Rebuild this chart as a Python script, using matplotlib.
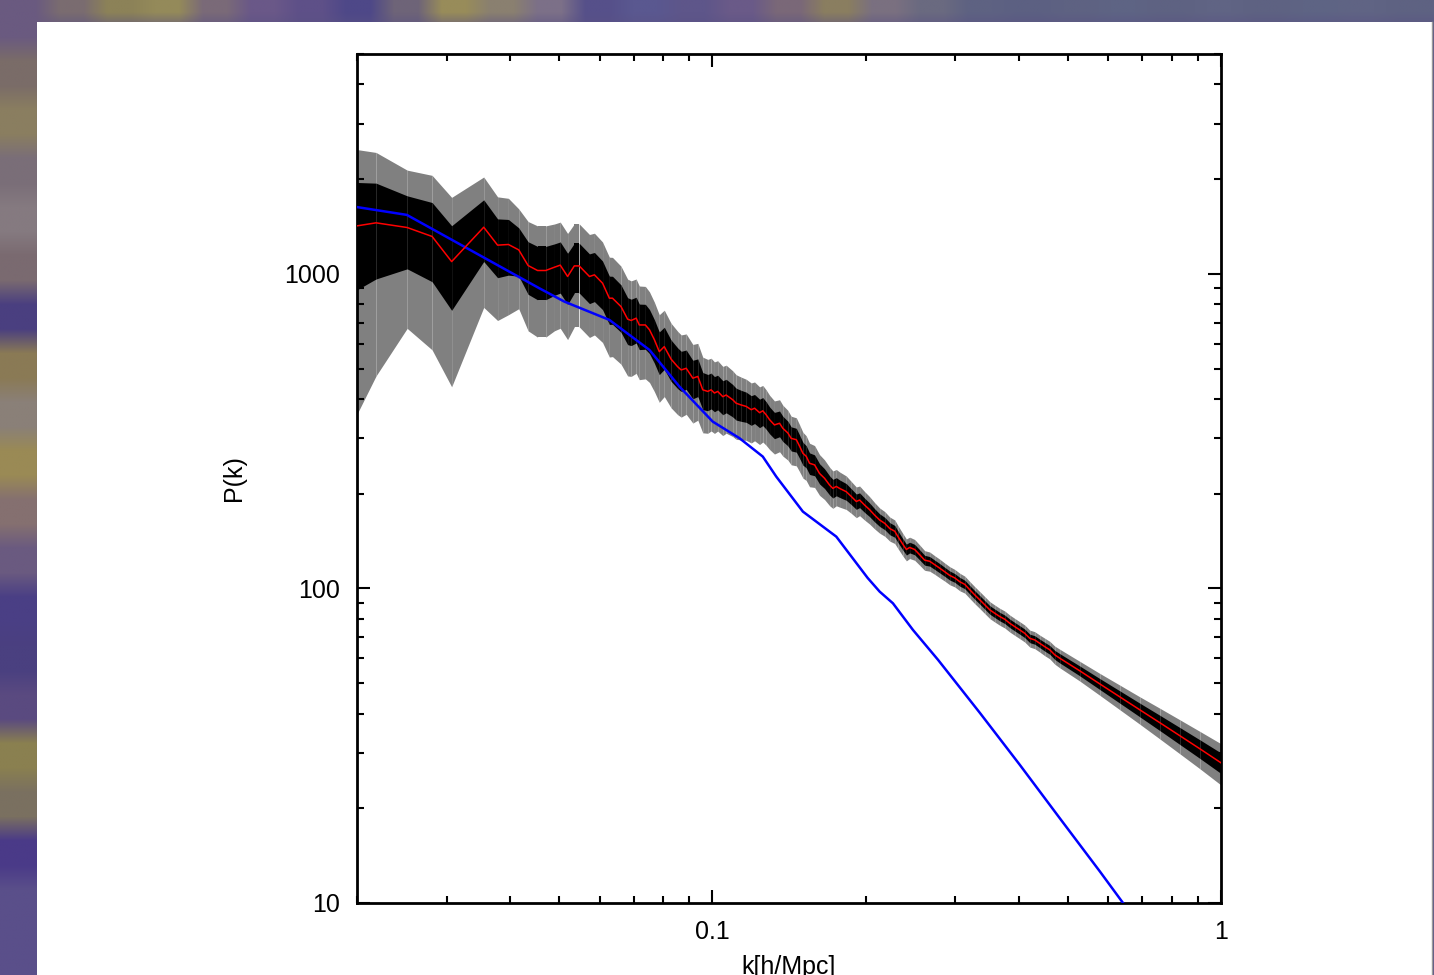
import numpy as np
import matplotlib
matplotlib.use("Agg")
import matplotlib.pyplot as plt
from matplotlib.patches import Rectangle
from matplotlib.ticker import FixedLocator, FuncFormatter, NullFormatter, LogLocator

# ---------------- data ----------------
# measured power spectrum (red line) and its 1-sigma relative error (bands: +-1 sigma black, +-2 sigma grey)
k_sim = [0.0200, 0.0218, 0.0251, 0.0281, 0.0307, 0.0355, 0.0378, 0.0397, 0.0416, 0.0434,
         0.0453, 0.0470, 0.0489, 0.0502, 0.0519, 0.0535, 0.0547, 0.0573, 0.0586, 0.0608,
         0.0627, 0.0636, 0.0661, 0.0681, 0.0692, 0.0708, 0.0718, 0.0738, 0.0752, 0.0769,
         0.0786, 0.0804, 0.0829, 0.0854, 0.0868, 0.0888, 0.0915, 0.0936, 0.0957, 0.0979,
         0.0994, 0.1009, 0.1024, 0.1048, 0.1064, 0.1096, 0.1113, 0.1139, 0.1165, 0.1192,
         0.1210, 0.1238, 0.1256, 0.1276, 0.1295, 0.1324, 0.1355, 0.1375, 0.1407, 0.1428,
         0.1462, 0.1484, 0.1506, 0.1529, 0.1552, 0.1588, 0.1624, 0.1661, 0.1700, 0.1725,
         0.1752, 0.1778, 0.1833, 0.1875, 0.1918, 0.1947, 0.1992, 0.2037, 0.2084, 0.2132,
         0.2182, 0.2232, 0.2283, 0.2317, 0.2369, 0.2406, 0.2442, 0.2498, 0.2555, 0.2614,
         0.2674, 0.2735, 0.2798, 0.2862, 0.2928, 0.2996, 0.3065, 0.3135, 0.3207, 0.3281,
         0.3357, 0.3434, 0.3513, 0.3590, 0.3673, 0.3757, 0.3842, 0.3931, 0.4021, 0.4113,
         0.4207, 0.4303, 0.4402, 0.4502, 0.4606, 0.4711, 0.4819, 0.5277, 0.5778, 0.6327,
         0.6928, 0.7585, 0.8305, 0.9093, 1.0000]
P_sim = [1421, 1453, 1404, 1315, 1094, 1407, 1234, 1240, 1192, 1063,
         1025, 1025, 1050, 1066, 981, 1060, 1060, 981, 993, 934,
         837, 837, 787, 718, 711, 723, 688, 688, 664, 617,
         566, 587, 536, 507, 495, 501, 466, 472, 428, 423,
         428, 418, 423, 407, 412, 398, 388, 383, 379, 370,
         374, 362, 367, 356, 344, 331, 335, 323, 312, 300,
         297, 283, 269, 263, 250, 247, 232, 224, 213, 208,
         211, 208, 203, 196, 189, 191, 184, 178, 171, 165,
         161, 155, 152, 146, 138, 133, 135, 133, 128, 123,
         122, 119, 116, 113, 110, 108, 105, 103, 99.0, 95.3,
         91.9, 88.6, 85.4, 83.4, 81.4, 79.8, 77.5, 75.6, 73.8, 72.0,
         69.4, 68.6, 66.9, 65.3, 63.8, 61.5, 60.0, 54.7, 49.7, 45.2,
         41.1, 37.4, 34.0, 30.9, 27.9]
rel_err = [0.374, 0.337, 0.261, 0.282, 0.300, 0.222, 0.212, 0.201, 0.175, 0.190,
           0.193, 0.193, 0.186, 0.185, 0.185, 0.180, 0.180, 0.180, 0.178, 0.176,
           0.175, 0.174, 0.172, 0.170, 0.168, 0.166, 0.165, 0.163, 0.160, 0.158,
           0.155, 0.153, 0.150, 0.148, 0.146, 0.143, 0.140, 0.137, 0.135, 0.132,
           0.130, 0.128, 0.126, 0.124, 0.122, 0.118, 0.116, 0.113, 0.110, 0.108,
           0.106, 0.104, 0.102, 0.100, 0.098, 0.096, 0.094, 0.092, 0.090, 0.088,
           0.087, 0.085, 0.083, 0.081, 0.079, 0.076, 0.074, 0.072, 0.070, 0.068,
           0.066, 0.064, 0.061, 0.058, 0.056, 0.054, 0.052, 0.050, 0.048, 0.046,
           0.045, 0.044, 0.043, 0.042, 0.041, 0.040, 0.039, 0.038, 0.037, 0.036,
           0.035, 0.034, 0.034, 0.033, 0.033, 0.032, 0.032, 0.031, 0.031, 0.031,
           0.031, 0.031, 0.031, 0.031, 0.031, 0.031, 0.031, 0.031, 0.031, 0.031,
           0.031, 0.031, 0.031, 0.032, 0.032, 0.033, 0.034, 0.036, 0.040, 0.045,
           0.050, 0.056, 0.062, 0.068, 0.075]

# linear-theory spectrum (blue line)
k_lin = [0.02003, 0.02506, 0.04563, 0.05113, 0.06269, 0.07516, 0.0861, 0.1001, 0.1130,
         0.1256, 0.1335, 0.1506, 0.1752, 0.2019, 0.2132, 0.2264, 0.2479, 0.2777, 0.3357,
         0.4021, 0.4819, 0.5778, 0.6928]
P_lin = [1630, 1540, 900.6, 816.4, 714, 573.3, 438.3, 339.2, 300.4,
         262.5, 226.7, 175.5, 146.1, 108.0, 97.7, 89.7, 73.8, 59.3, 40.2,
         27.5, 18.6, 12.6, 8.45]

x_ticks = [0.1, 1]
x_tick_labels = ["0.1", "1"]
y_ticks = [10, 100, 1000]
y_tick_labels = ["10", "100", "1000"]
x_label = "k[h/Mpc]"
y_label = "P(k)"

# slide background colours (decorative)
top_colors = ["#6a5a80", "#7a6c70", "#8c8258", "#948a5a", "#7a6a78", "#6a5888", "#5e5088",
              "#4e4888", "#6e6478", "#988c5a", "#8a8070", "#7c7088", "#56508a", "#5a5890",
              "#5e568a", "#6a5a88", "#7a6878", "#8a7e60", "#7a7080", "#6a6a80", "#5e6282",
              "#5c6082", "#5e6282", "#5e6484", "#5e6282", "#606484", "#5e6282", "#5e6484",
              "#606484", "#5e6282"]
left_colors = ["#6a5a80", "#7a6c68", "#8a7e60", "#7a6e78", "#857a80", "#7a6a70", "#4a3f80",
               "#8a7a55", "#8a8078", "#9a8a55", "#857070", "#6a5a80", "#4a3f85", "#4a4080",
               "#5a4a80", "#8a8050", "#7a7060", "#4a3a88", "#5a4f8a", "#5a4f8a"]

# ---------------- figure ----------------
plt.rcParams["font.family"] = ["Liberation Sans", "DejaVu Sans"]
W, H = 1434, 975
fig = plt.figure(figsize=(W / 100, H / 100), dpi=100)

def hex2rgb(h):
    h = h.lstrip("#")
    return [int(h[i:i + 2], 16) / 255 for i in (0, 2, 4)]

bg = np.zeros((40, 60, 3))
bg[:, :] = hex2rgb("#5a5284")
for j, c in enumerate(top_colors):
    bg[0, 2 * j:2 * j + 2] = hex2rgb(c)
for i, c in enumerate(left_colors):
    bg[2 * i:2 * i + 2, 0:2] = hex2rgb(c)
bax = fig.add_axes([0, 0, 1, 1], zorder=0)
bax.imshow(bg, extent=[0, W, H, 0], aspect="auto", interpolation="bilinear")
bax.add_patch(Rectangle((37, 22), 1395, H - 22, facecolor="white", edgecolor="none"))
bax.plot([1432, 1432], [22, H], color="#9a9a9a", lw=1.0)
bax.set_xlim(0, W)
bax.set_ylim(H, 0)
bax.axis("off")

ax = fig.add_axes([357 / W, 1 - 903 / H, 864 / W, 849 / H], zorder=1)
ax.set_facecolor("white")

k = np.array(k_sim)
P = np.array(P_sim)
s = P * np.array(rel_err)
for i in range(len(k) - 1):
    sl = slice(i, i + 2)
    ax.fill_between(k[sl], (P - 2 * s)[sl], (P + 2 * s)[sl], color="#808080", lw=0, zorder=1)
for i in range(len(k) - 1):
    sl = slice(i, i + 2)
    ax.fill_between(k[sl], (P - s)[sl], (P + s)[sl], color="black", lw=0, zorder=2)

ax.plot(k_lin, P_lin, color="#0000ff", lw=1.8, zorder=3)
ax.plot(k_sim, P_sim, color="#ff0000", lw=1.1, zorder=4)

ax.set_xscale("log")
ax.set_yscale("log")
ax.set_xlim(0.02, 1.0)
ax.set_ylim(10, 5000)

ax.xaxis.set_major_locator(FixedLocator(x_ticks))
ax.xaxis.set_major_formatter(FuncFormatter(lambda v, p: x_tick_labels[x_ticks.index(v)] if v in x_ticks else ""))
ax.yaxis.set_major_locator(FixedLocator(y_ticks))
ax.yaxis.set_major_formatter(FuncFormatter(lambda v, p: y_tick_labels[y_ticks.index(v)] if v in y_ticks else ""))
ax.xaxis.set_minor_locator(LogLocator(base=10, subs=np.arange(2, 10), numticks=20))
ax.yaxis.set_minor_locator(LogLocator(base=10, subs=np.arange(2, 10), numticks=20))
ax.xaxis.set_minor_formatter(NullFormatter())
ax.yaxis.set_minor_formatter(NullFormatter())

ax.tick_params(which="both", direction="in", top=True, right=True, width=1.5, colors="black")
ax.tick_params(which="major", length=9.5, labelsize=18, pad=12)
ax.tick_params(which="minor", length=5)
for sp in ax.spines.values():
    sp.set_linewidth(2.0)
    sp.set_color("black")

ax.set_xlabel(x_label, fontsize=18)
ax.set_ylabel(y_label, fontsize=18)
ax.xaxis.set_label_coords(0.5, -(955 - 903) / 849)
ax.yaxis.set_label_coords((246 - 357) / 864, 0.5)

fig.savefig("out.png", dpi=100)
